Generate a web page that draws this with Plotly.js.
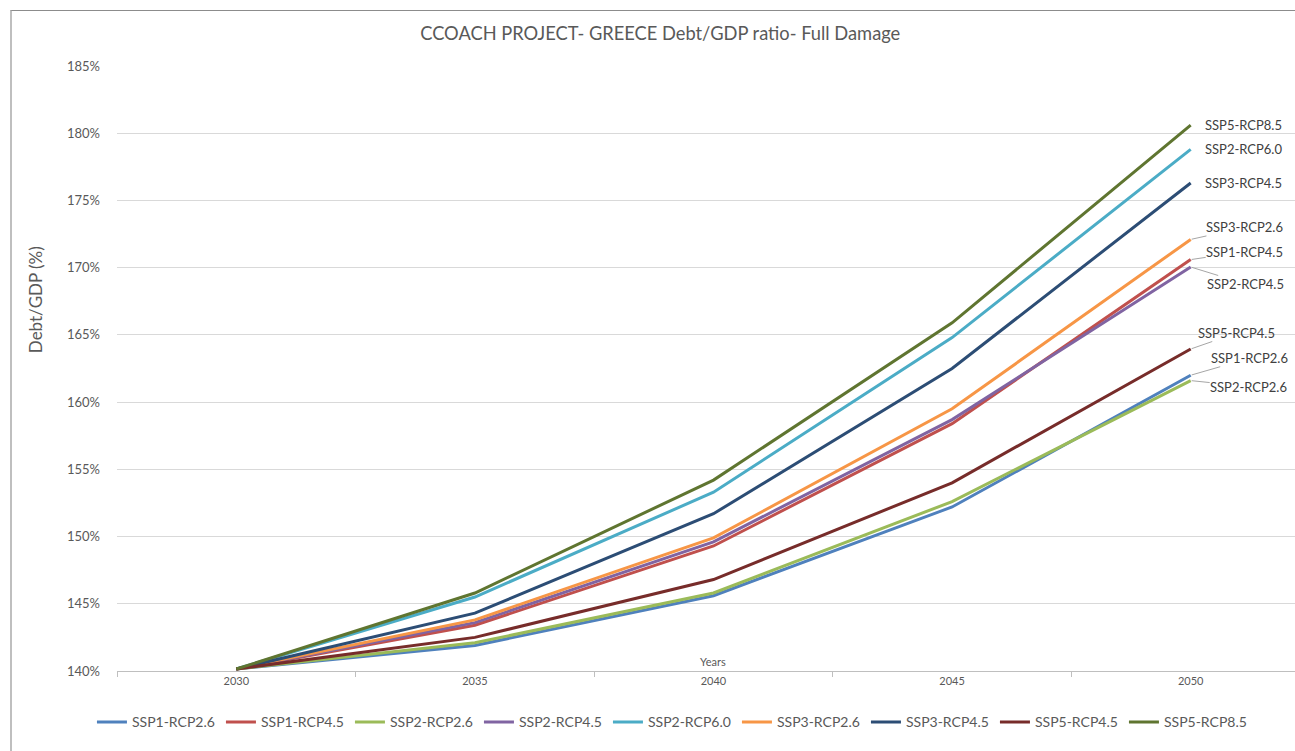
<!DOCTYPE html>
<html>
<head>
<meta charset="utf-8">
<script src="https://cdn.plot.ly/plotly-3.0.1.min.js"></script>
<style>
  html, body { margin: 0; padding: 0; background: #ffffff; overflow: hidden; }
  #frame { position: absolute; left: 10px; top: 10px; width: 1300px; height: 760px;
           border-left: 2px solid #bfbfbf; border-top: 1px solid #8c8c8c; }
  #chart { position: absolute; left: 0; top: 0; width: 1310px; height: 751px; }
</style>
</head>
<body>
<div id="frame"></div>
<div id="chart"></div>
<script>
// ---- data (Debt/GDP, %) ----
const years = ["2030", "2035", "2040", "2045", "2050"];
const seriesNames = ["SSP1-RCP2.6", "SSP1-RCP4.5", "SSP2-RCP2.6", "SSP2-RCP4.5", "SSP2-RCP6.0",
                     "SSP3-RCP2.6", "SSP3-RCP4.5", "SSP5-RCP4.5", "SSP5-RCP8.5"];
const ssp1_rcp26 = [140.15, 141.9, 145.6, 152.2, 162.0];
const ssp1_rcp45 = [140.15, 143.4, 149.3, 158.4, 170.6];
const ssp2_rcp26 = [140.15, 142.1, 145.8, 152.6, 161.6];
const ssp2_rcp45 = [140.15, 143.6, 149.6, 158.7, 170.05];
const ssp2_rcp60 = [140.15, 145.5, 153.3, 164.8, 178.8];
const ssp3_rcp26 = [140.15, 143.8, 149.9, 159.5, 172.1];
const ssp3_rcp45 = [140.15, 144.3, 151.7, 162.5, 176.3];
const ssp5_rcp45 = [140.15, 142.5, 146.8, 154.0, 163.95];
const ssp5_rcp85 = [140.15, 145.8, 154.2, 165.9, 180.6];
const yTicks = [140, 145, 150, 155, 160, 165, 170, 175, 180, 185];
const yTickLabels = ["140%", "145%", "150%", "155%", "160%", "165%", "170%", "175%", "180%", "185%"];

const values = [ssp1_rcp26, ssp1_rcp45, ssp2_rcp26, ssp2_rcp45, ssp2_rcp60,
                ssp3_rcp26, ssp3_rcp45, ssp5_rcp45, ssp5_rcp85];
const colors = ["#4F81BD", "#C0504D", "#9BBB59", "#8064A2", "#4BACC6",
                "#F79646", "#2C4D75", "#772C2A", "#5F7530"];

const FONT = "Lato, 'Open Sans', sans-serif";

const traces = seriesNames.map((n, i) => ({
  type: "scatter", mode: "lines", name: n,
  x: years, y: values[i],
  line: { color: colors[i], width: 3 },
  hoverinfo: "x+y+name"
}));

// end-of-line data labels: [series index, x offset px, y offset px, leader line]
const labelSpec = [
  [8, 53, 0, false],
  [4, 53, 0, false],
  [6, 53, 0, false],
  [5, 54, -12, true],
  [1, 54, -8, true],
  [3, 55, 17, true],
  [7, 46, -16, true],
  [0, 59, -17, true],
  [2, 58, 6, true]
];
const lastIdx = years.length - 1;
const annotations = labelSpec.map(([i, ax, ay, leader]) => {
  const a = {
    x: lastIdx, y: values[i][lastIdx],
    xref: "x", yref: "y", text: seriesNames[i],
    font: { family: FONT, size: 13, color: "#404040" }
  };
  if (leader) {
    Object.assign(a, { showarrow: true, ax: ax, ay: ay,
      arrowhead: 0, arrowwidth: 1, arrowcolor: "#a6a6a6", standoff: 1, borderpad: 0 });
  } else {
    Object.assign(a, { showarrow: false, xshift: ax, yshift: -ay });
  }
  return a;
});
annotations.push({
  text: "Years", xref: "paper", yref: "paper", x: 0.4995, y: 0.0, yanchor: "bottom",
  yshift: 1, showarrow: false, font: { family: FONT, size: 11, color: "#595959" }
});
annotations.push({
  text: "Debt/GDP (%)", xref: "paper", yref: "paper", x: -0.0687, xanchor: "center",
  y: 0.613, yanchor: "middle",
  textangle: -90, showarrow: false, font: { family: FONT, size: 17, color: "#595959" }
});

const layout = {
  width: 1310, height: 751,
  paper_bgcolor: "rgba(0,0,0,0)", plot_bgcolor: "rgba(0,0,0,0)",
  margin: { l: 117, r: 0, t: 66, b: 80 },
  title: {
    text: "CCOACH PROJECT- GREECE Debt/GDP ratio- Full Damage",
    font: { family: FONT, size: 18.3, color: "#595959" },
    x: 0.504, xanchor: "center", y: 0.955, yanchor: "middle"
  },
  xaxis: {
    type: "category", range: [-0.5, 4.5],
    tickson: "boundaries", ticks: "outside", ticklen: 5, tickcolor: "#bfbfbf",
    showgrid: false, showline: true, linecolor: "#bfbfbf", linewidth: 1,
    tickfont: { family: FONT, size: 11, color: "#595959" },
    zeroline: false, fixedrange: true
  },
  yaxis: {
    range: [140, 185], tickvals: yTicks, ticktext: yTickLabels,
    showgrid: true, gridcolor: "#d9d9d9", gridwidth: 1,
    showline: false, zeroline: false, ticks: "",
    ticklabelstandoff: 16,
    tickfont: { family: FONT, size: 13, color: "#595959" },
    fixedrange: true
  },
  showlegend: true,
  legend: {
    orientation: "h", x: -0.021, xanchor: "left", y: -0.085, yanchor: "middle",
    entrywidth: 84, entrywidthmode: "pixels", itemwidth: 30,
    font: { family: FONT, size: 14, color: "#595959" },
    bgcolor: "rgba(0,0,0,0)", tracegroupgap: 0
  },
  annotations: annotations,
  hovermode: "closest"
};

Plotly.newPlot("chart", traces, layout, { displayModeBar: false, responsive: false });
</script>
</body>
</html>
